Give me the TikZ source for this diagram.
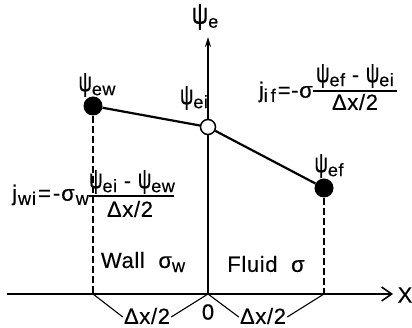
\documentclass[tikz,border=0pt]{standalone}
\usepackage{fontspec}
\setmainfont{Liberation Sans}[LetterSpace=3,FakeBold=0.3]
\usetikzlibrary{arrows.meta}
\newcommand{\lsub}[1]{\raisebox{-0.35ex}{\fontsize{18}{18}\selectfont #1}}
\newcommand{\pv}{\scalebox{0.85}[1.25]{ψ}}
\begin{document}
\begin{tikzpicture}[x=1pt,y=-1pt,
 txt/.style={font=\fontsize{22}{24}\selectfont, inner sep=0pt},
 dot/.style={circle,fill=black,minimum size=19pt,inner sep=0pt},
 odot/.style={circle,draw=black,fill=white,line width=1.5pt,minimum size=15pt,inner sep=0pt},
 axis/.style={line width=1.6pt},
 guide/.style={dash pattern=on 7pt off 3pt, line width=1.1pt},
 prof/.style={line width=2.2pt},
 dim/.style={line width=1.1pt},
 fracbar/.style={line width=1.4pt}]
\useasboundingbox (0,0) rectangle (412,328);
% axes
\coordinate (O) at (208,294);
\coordinate (xs) at (7,294);
\coordinate (xe) at (393,294);
\coordinate (yt) at (208,37);
\draw[axis,-{Straight Barb[length=10pt,width=14pt]}] (xs) -- (xe);
\draw[axis,-{Stealth[length=10pt,width=6pt]}] (O) -- (yt);
\node[txt] (X) at (405,295) {X};
\node[txt] (ye) at (205,17) {\scalebox{1.05}[1.35]{ψ}\lsub{e}};
% points
\node[dot] (ew) at (93,106) {};
\node[odot] (ei) at (208,127) {};
\node[dot] (ef) at (324,188) {};
\coordinate (wb) at (93,294);
\coordinate (fb) at (324,294);
\draw[prof] (ew) -- (ei) -- (ef);
\draw[guide] (ew) -- (wb);
\draw[guide] (ef) -- (fb);
\node[txt] (lew) at (97,85) {\pv\lsub{ew}};
\node[txt] (lei) at (194,98) {\pv\lsub{ei}};
\node[txt] (lef) at (329,166) {\pv\lsub{ef}};
% dimensions
\node[txt] (dl) at (147,316) {Δx/2};
\node[txt] (dr) at (263,316) {Δx/2};
\node[txt] (zero) at (208,312) {0};
\draw[dim] (wb) -- ([xshift=-1pt,yshift=-1pt]dl.west);
\draw[dim] ([xshift=1pt,yshift=-1pt]dl.east) -- (O);
\draw[dim] (O) -- ([xshift=-1pt,yshift=-1pt]dr.west);
\draw[dim] ([xshift=1pt,yshift=-1pt]dr.east) -- (fb);
% regions
\node[txt] (wall) at (143,262) {Wall \ σ\lsub{w}};
\node[txt] (fluid) at (266,264) {Fluid \ σ};
% j_if
\coordinate (bif1) at (313,91);
\coordinate (bif2) at (397,91);
\node[txt,anchor=east] (jif) at (313,92) {j\lsub{i\kern3pt f}\kern2pt=-σ};
\draw[fracbar] (bif1) -- (bif2);
\node[txt] (nif) at (355,76) {\pv\lsub{ef}\ - \pv\lsub{ei}};
\node[txt] (dif) at (355,102) {Δx/2};
% j_wi
\coordinate (bwi1) at (89,196);
\coordinate (bwi2) at (174,196);
\node[txt,anchor=east] (jwi) at (89,195) {j\kern1pt\lsub{w\kern1pt i}\kern2pt=\kern2pt-\kern1ptσ\kern1pt\lsub{w}};
\draw[fracbar] (bwi1) -- (bwi2);
\node[txt] (nwi) at (132,182) {\pv\lsub{ei} - \pv\lsub{ew}};
\node[txt] (dwi) at (130,209) {Δx/2};
\end{tikzpicture}
\end{document}
